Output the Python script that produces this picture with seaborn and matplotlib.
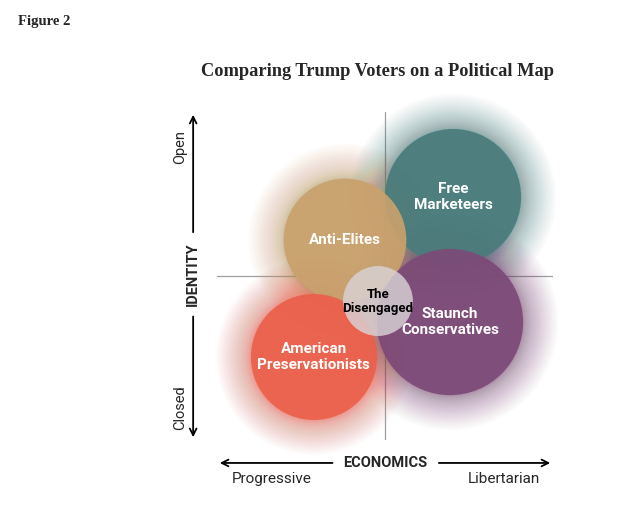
import numpy as np
import matplotlib
matplotlib.use("Agg")
import matplotlib.pyplot as plt
from matplotlib.patches import Circle
import seaborn as sns

# groups placed on economics (x) / identity (y), radius in the same units
groups = ["Free\nMarketeers", "Anti-Elites", "Staunch\nConservatives",
          "American\nPreservationists", "The\nDisengaged"]
economics = [0.405, -0.238, 0.387, -0.423, -0.042]
identity = [0.470, 0.214, -0.274, -0.482, -0.149]
size = [0.405, 0.365, 0.435, 0.375, 0.208]
colors = ["#4a7b7b", "#c9a16d", "#7c4a77", "#ea604b", "#d9d3d6"]
text_colors = ["white", "white", "white", "white", "black"]

sns.set_theme(style="white")
plt.rcParams["font.family"] = ["Roboto", "DejaVu Sans"]

fig = plt.figure(figsize=(6.4, 5.08), dpi=100)
ax = fig.add_axes([217/640, 1 - 440/508, 336/640, 328/508])
ax.set_xlim(-1, 1)
ax.set_ylim(-164/168, 164/168)
ax.set_aspect("equal")
ax.axis("off")

# cross hair
ax.axhline(0, color="#a0a0a0", lw=0.9, zorder=1)
ax.axvline(0, color="#a0a0a0", lw=0.9, zorder=1)

# soft halo round each bubble, denser near the rim so it fades out
steps = 0.21 * np.linspace(0, 1, 50) ** 1.8
for x, y, r, c in zip(economics[:4], identity[:4], size[:4], colors[:4]):
    for k in steps:
        ax.add_patch(Circle((x, y), r + k, color=c, alpha=0.014, lw=0,
                            zorder=2, clip_on=False))

for i, (x, y, r, c) in enumerate(zip(economics, identity, size, colors)):
    a = 0.82 if i == 4 else 0.93
    ax.add_patch(Circle((x, y), r, color=c, alpha=a, lw=0, zorder=3 + i,
                        clip_on=False))
    ax.text(x, y, groups[i], ha="center", va="center",
            fontsize=9.5 if i == 4 else 11, fontweight="bold",
            color=text_colors[i], zorder=10, linespacing=1.1)

# axis arrows and labels
arr = dict(arrowstyle="->", color="black", lw=1.3)
ax.annotate("", xy=(-0.071, 1.0), xytext=(-0.071, 0.625),
            xycoords="axes fraction", arrowprops=arr, annotation_clip=False)
ax.annotate("", xy=(-0.071, 0.0), xytext=(-0.071, 0.385),
            xycoords="axes fraction", arrowprops=arr, annotation_clip=False)
ax.annotate("", xy=(0.0, -0.070), xytext=(0.352, -0.070),
            xycoords="axes fraction", arrowprops=arr, annotation_clip=False)
ax.annotate("", xy=(1.0, -0.070), xytext=(0.652, -0.070),
            xycoords="axes fraction", arrowprops=arr, annotation_clip=False)

ax.text(-0.071, 0.506, "IDENTITY", transform=ax.transAxes, rotation=90,
        ha="center", va="center", fontsize=10.5, fontweight="bold")
ax.text(0.5, -0.070, "ECONOMICS", transform=ax.transAxes,
        ha="center", va="center", fontsize=10.5, fontweight="bold")
ax.text(-0.110, 0.893, "Open", transform=ax.transAxes, rotation=90,
        ha="center", va="center", fontsize=10.5)
ax.text(-0.110, 0.098, "Closed", transform=ax.transAxes, rotation=90,
        ha="center", va="center", fontsize=10.5)
ax.text(0.164, -0.119, "Progressive", transform=ax.transAxes,
        ha="center", va="center", fontsize=11)
ax.text(0.854, -0.119, "Libertarian", transform=ax.transAxes,
        ha="center", va="center", fontsize=11)

fig.text(0.590, 1 - 71/508, "Comparing Trump Voters on a Political Map",
         ha="center", va="center", fontsize=13.2, fontweight="bold",
         family=["Liberation Serif", "DejaVu Serif"])
fig.text(18/640, 1 - 22/508, "Figure 2", ha="left", va="center",
         fontsize=10.5, fontweight="bold",
         family=["Liberation Serif", "DejaVu Serif"])

fig.savefig("out.png", dpi=100)
